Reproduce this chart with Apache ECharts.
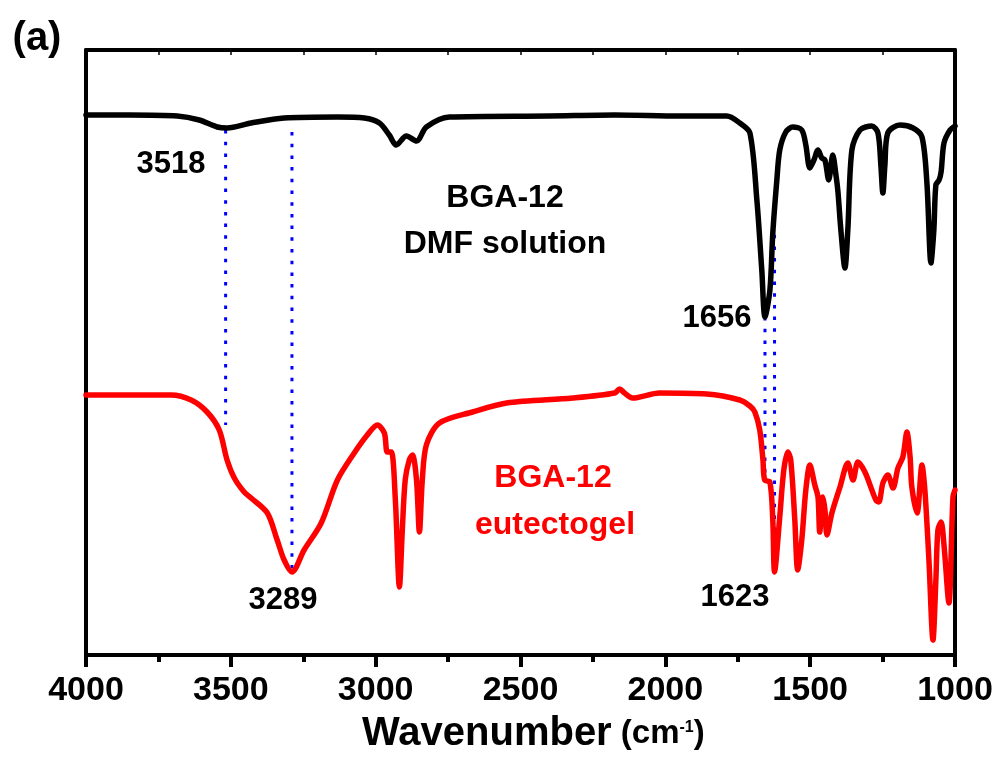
<!DOCTYPE html>
<html>
<head>
<meta charset="utf-8">
<script src="https://cdn.jsdelivr.net/npm/echarts@6/dist/echarts.min.js"></script>
<style>html,body{margin:0;padding:0;background:#fff}#c{width:999px;height:758px}</style>
</head>
<body>
<div id="c"></div>
<script>
// ---- data (wavenumber in cm^-1, transmittance in arbitrary units) ----
const dmfWn = [4000,3851,3685,3609,3547,3513,3430,3316,3132,3039,2987,2953,2929,2894,2859,2825,2745,2400,2175,1950,1788,1743,1708,1684,1667,1656,1639,1629,1615,1605,1584,1560,1529,1515,1501,1487,1473,1460,1449,1436,1422,1411,1404,1394,1380,1370,1356,1328,1287,1266,1256,1249,1242,1232,1190,1145,1114,1097,1083,1073,1066,1055,1048,1038,1017,1000];
const dmfT  = [108,108,107.8,107,105.6,105.4,106.4,107.4,107.6,107.4,106.4,104,102,103.8,102.8,105.6,107.6,107.8,108,107.8,107.8,106.4,104.4,91,77,67.6,73,84.4,95,101,104.6,105.6,105,102,97.4,99,101,99.4,99,95,100,96,92.6,85,77.4,85,101,105,105.8,104.4,98,92.4,98,104.4,106,105.4,103.6,94.4,78.4,85,94,95,96.6,102.4,105,105.8];

const gelWn = [4000,3706,3637,3582,3540,3513,3488,3454,3430,3374,3340,3316,3289,3247,3188,3132,3074,3029,2994,2970,2960,2946,2932,2918,2908,2898,2884,2873,2859,2849,2839,2825,2780,2666,2548,2320,2175,2158,2141,2113,2020,1857,1743,1708,1691,1674,1663,1657,1639,1629,1623,1605,1591,1577,1567,1553,1543,1529,1515,1501,1484,1473,1467,1456,1449,1442,1425,1397,1370,1352,1335,1311,1287,1273,1263,1249,1232,1214,1197,1180,1166,1155,1149,1131,1114,1104,1090,1076,1066,1059,1048,1038,1021,1007,1000];
const gelT  = [52,52,51,48.6,45,39,35.4,32.6,31.4,28.4,23,19,16.6,21,26.4,35,40.4,44,46,44.4,40.6,40.6,31,13.6,25,35,39,40,35,24.6,35,42,46.4,48.6,50.4,51.4,52.4,53.2,52.4,51.4,52.4,52.2,51,49.8,48.6,45,39,35,34.6,27,16.6,27.6,37,40.6,39,27,17,23,33,38,34,31.6,24.6,31.6,29,24,28.4,33.6,38.4,35,38.6,36.6,33,31,30.6,34.4,36,33.4,37.4,39.6,44.6,39.6,33.6,28.4,38,33,19,3,15,25,26.6,22,10.4,31.6,33];

const peakWn     = [3518, 3289, 1656, 1623];
const peakTop    = [105, 104.6, 67.6, 86.4];
const peakBottom = [46, 16.6, 36.4, 18.4];
const peakLabels = ['3518', '3289', '1656', '1623'];

const xMin = 1000, xMax = 4000, xStep = 500;
const yMin = 0, yMax = 121;

// ---- chart ----
const chart = echarts.init(document.getElementById('c'), null, {renderer: 'canvas'});
const F = '"Liberation Sans", Arial, sans-serif';

const pair = (xs, ys) => xs.map((x, i) => [x, ys[i]]);

const markerSeries = peakWn.map((w, i) => ({
  type: 'line',
  xAxisIndex: 0, yAxisIndex: 0,
  data: [[w, peakTop[i]], [w, peakBottom[i]]],
  showSymbol: false, silent: true, z: 1,
  lineStyle: {color: '#0000ff', width: 3, type: [3.5, 8.2]}
}));

chart.setOption({
  animation: false,
  backgroundColor: '#fff',
  grid: {left: 86, right: 44, top: 50, bottom: 103},
  xAxis: [{
    type: 'value', min: xMin, max: xMax, interval: xStep, inverse: true, position: 'bottom',
    axisLine: {show: true, onZero: false, lineStyle: {color: '#000', width: 4}},
    axisTick: {show: true, inside: false, length: 12, lineStyle: {color: '#000', width: 4}},
    minorTick: {show: true, splitNumber: 2, length: 7, lineStyle: {color: '#000', width: 4}},
    axisLabel: {show: true, color: '#000', fontSize: 34, fontWeight: 'bold', fontFamily: F, margin: 19,
      formatter: v => String(v)},
    splitLine: {show: false}, minorSplitLine: {show: false}
  }, {
    type: 'value', min: xMin, max: xMax, interval: 250, inverse: true, position: 'top',
    axisLine: {show: true, onZero: false, lineStyle: {color: '#000', width: 4}},
    axisTick: {show: true, inside: true, length: 5, lineStyle: {color: '#000', width: 1.5}},
    axisLabel: {show: false}, splitLine: {show: false}
  }],
  yAxis: [{
    type: 'value', min: yMin, max: yMax, position: 'left',
    axisLine: {show: true, onZero: false, lineStyle: {color: '#000', width: 4}},
    axisTick: {show: false}, axisLabel: {show: false}, splitLine: {show: false}
  }, {
    type: 'value', min: yMin, max: yMax, position: 'right',
    axisLine: {show: true, onZero: false, lineStyle: {color: '#000', width: 4}},
    axisTick: {show: false}, axisLabel: {show: false}, splitLine: {show: false}
  }],
  series: [
    ...markerSeries,
    {
      type: 'line', name: 'DMF solution', xAxisIndex: 0, yAxisIndex: 0,
      data: pair(dmfWn, dmfT), showSymbol: false, z: 3, smooth: 0.3,
      lineStyle: {color: '#000000', width: 5.5, join: 'round', cap: 'round'}
    },
    {
      type: 'line', name: 'eutectogel', xAxisIndex: 0, yAxisIndex: 0,
      data: pair(gelWn, gelT), showSymbol: false, z: 3, smooth: 0.3,
      lineStyle: {color: '#ff0000', width: 5.5, join: 'round', cap: 'round'}
    }
  ],
  graphic: [
    {type: 'text', x: 37, y: 39, style: {text: '(a)', font: 'bold 40px ' + F, fill: '#000', align: 'center', verticalAlign: 'middle'}},
    {type: 'text', x: 171, y: 164, style: {text: peakLabels[0], font: 'bold 31px ' + F, fill: '#000', align: 'center', verticalAlign: 'middle'}},
    {type: 'text', x: 283, y: 600, style: {text: peakLabels[1], font: 'bold 31px ' + F, fill: '#000', align: 'center', verticalAlign: 'middle'}},
    {type: 'text', x: 717, y: 318, style: {text: peakLabels[2], font: 'bold 31px ' + F, fill: '#000', align: 'center', verticalAlign: 'middle'}},
    {type: 'text', x: 735, y: 597, style: {text: peakLabels[3], font: 'bold 31px ' + F, fill: '#000', align: 'center', verticalAlign: 'middle'}},
    {type: 'text', x: 505, y: 198, style: {text: 'BGA-12', font: 'bold 32px ' + F, fill: '#000', align: 'center', verticalAlign: 'middle'}},
    {type: 'text', x: 505, y: 244, style: {text: 'DMF solution', font: 'bold 32px ' + F, fill: '#000', align: 'center', verticalAlign: 'middle'}},
    {type: 'text', x: 553, y: 478, style: {text: 'BGA-12', font: 'bold 32px ' + F, fill: '#ff0000', align: 'center', verticalAlign: 'middle'}},
    {type: 'text', x: 555, y: 525, style: {text: 'eutectogel', font: 'bold 32px ' + F, fill: '#ff0000', align: 'center', verticalAlign: 'middle'}},
    {type: 'text', x: 362, y: 734, style: {
      text: '{a|Wavenumber}{b| (cm}{s|-1}{b|)}',
      align: 'left', verticalAlign: 'middle', fill: '#000',
      rich: {
        a: {fontSize: 40, fontWeight: 'bold', fontFamily: F, fill: '#000'},
        b: {fontSize: 33, fontWeight: 'bold', fontFamily: F, fill: '#000'},
        s: {fontSize: 16, fontWeight: 'bold', fontFamily: F, fill: '#000', verticalAlign: 'top', padding: [6, 0, 0, 0]}
      }
    }}
  ]
});
</script>
</body>
</html>
